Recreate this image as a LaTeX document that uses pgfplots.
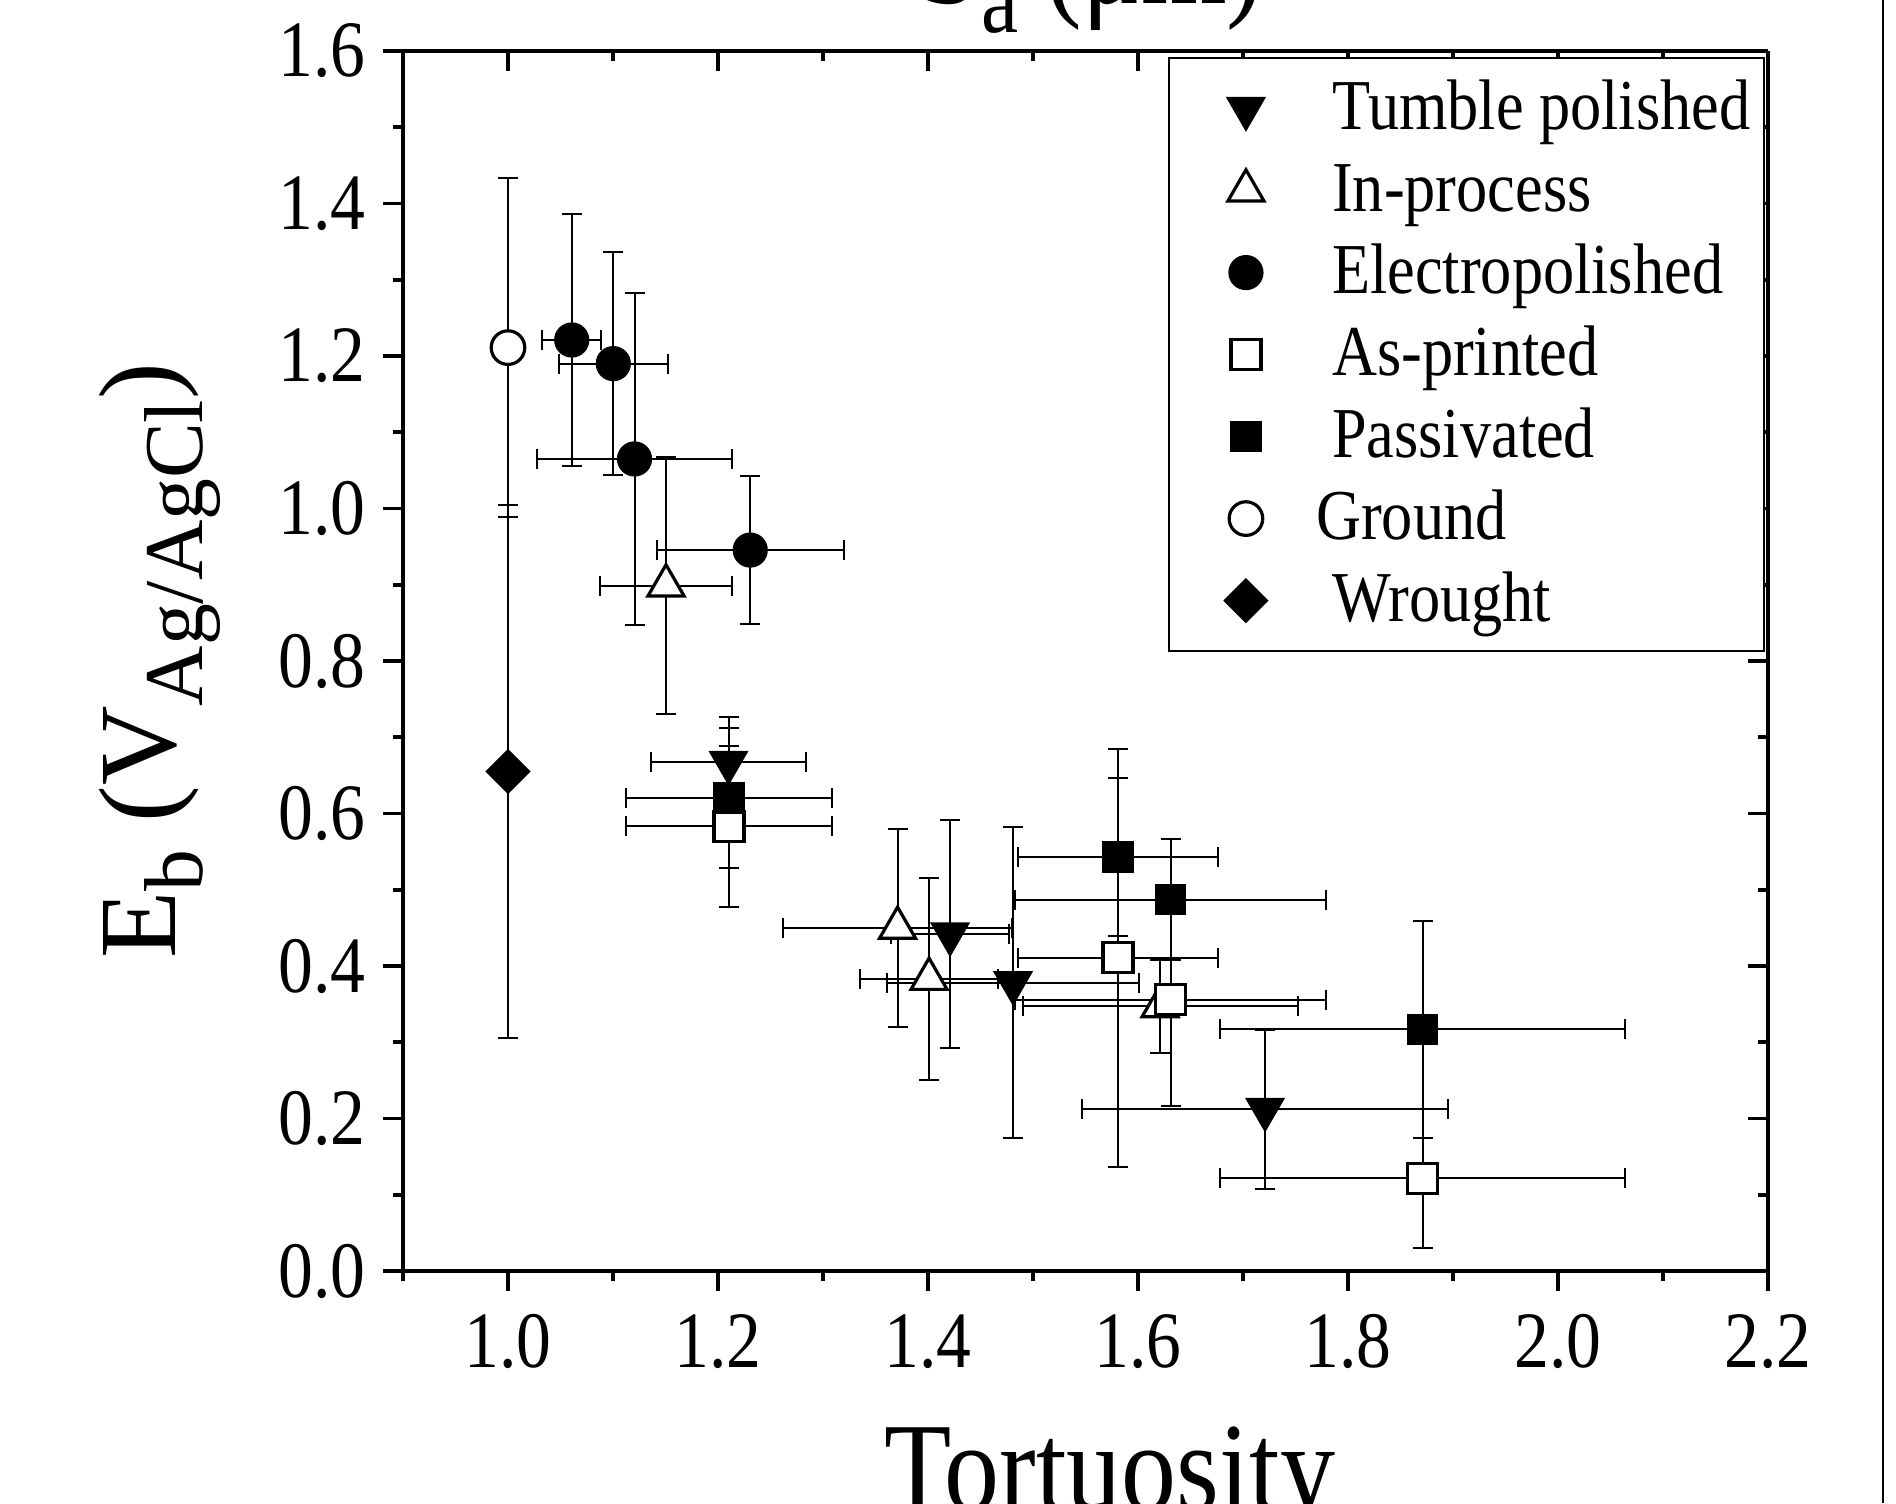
\documentclass[border=0pt]{standalone}
\usepackage{fontspec}
\setmainfont{Liberation Serif}
\newfontfamily\narrow[FakeStretch=0.87]{Liberation Serif}
\usepackage{pgfplots}
\pgfplotsset{compat=1.18}

\newcommand{\sub}[1]{\raisebox{-0.25em}{\fontsize{20.9pt}{24pt}\selectfont #1}}
\newcommand{\subt}[1]{\raisebox{-0.23em}{\fontsize{24pt}{28pt}\selectfont #1}}

\pgfplotsset{
  limg/.style={legend image code/.code={\path[draw=none, fill=none] (0pt,-1pt) rectangle (38.8pt,1pt);
      \draw[mark repeat=2,mark phase=2,##1] plot coordinates {(0pt,0pt)(17.25pt,0pt)(34.5pt,0pt)};}},
  errxy/.style={only marks,
    error bars/.cd, x dir=both, x explicit, y dir=both, y explicit,
    error bar style={line width=0.5pt, black},
    error mark options={rotate=90, line width=0.5pt, mark size=2.5pt, black},
    /pgfplots/.cd, limg},
  erry/.style={only marks,
    error bars/.cd, y dir=both, y explicit,
    error bar style={line width=0.5pt, black},
    error mark options={rotate=90, line width=0.5pt, mark size=2.5pt, black},
    /pgfplots/.cd, limg},
  common/.style={
    at={(0,0)}, anchor=south west, scale only axis,
    width=341.25pt, height=305pt,
    xmin=0.9, xmax=2.2, ymin=0, ymax=1.6,
    xtick={1.0,1.2,1.4,1.6,1.8,2.0,2.2},
    minor xtick={0.9,1.1,1.3,1.5,1.7,1.9,2.1},
    ytick={0,0.2,0.4,0.6,0.8,1.0,1.2,1.4,1.6},
    minor ytick={0.1,0.3,0.5,0.7,0.9,1.1,1.3,1.5},
    major tick length=5pt, minor tick length=2.5pt,
    every tick/.style={line width=0.9pt, black},
    axis line style={-, line width=1.2pt, black},
  }
}

\begin{document}
\begin{tikzpicture}
% back axis: top and right, ticks inside
\begin{axis}[common,
  axis x line*=top, axis y line*=right,
  tick align=inside,
  xticklabels={}, yticklabels={}]
\addplot[draw=none, forget plot] coordinates {(1,1)};
\end{axis}

% front axis: bottom and left, data and legend
\begin{axis}[common,
  axis x line*=bottom, axis y line*=left,
  tick align=outside,
  /pgf/number format/.cd, fixed, fixed zerofill, precision=1, assume math mode=true,
  /pgfplots/.cd,
  tick label style={font=\narrow\fontsize{20pt}{24pt}\selectfont, black},
  xticklabel style={yshift=-2.3pt},
  yticklabel style={xshift=-0.8pt},
  legend cell align=left,
  legend style={at={(axis description cs:0.5604,0.9951)}, anchor=north west,
    draw=black, line width=0.5pt, fill=white,
    font=\narrow\fontsize{17.9pt}{21pt}\selectfont,
    inner xsep=2pt, inner ysep=5.4pt, row sep=6pt,
    nodes={inner sep=0pt, text height=12.5pt, text depth=2pt}},
  extra description/.code={
    \node[anchor=base, font=\narrow\fontsize{31.6pt}{36pt}\selectfont] at (0.518,-0.1965) {Tortuosity};
    \node[anchor=base, rotate=90, font=\fontsize{27.5pt}{33pt}\selectfont] at (-0.167,0.5) {E\sub{b} (V\sub{Ag/AgCl})};
    \node[anchor=base, font=\narrow\fontsize{31.6pt}{36pt}\selectfont] at (0.5045,1.0389) {S\subt{a} (μm)};
  }]

% Tumble polished
\addplot[errxy, mark=triangle*, mark size=5.4pt, mark options={rotate=180, fill=black, draw=black, line width=0.4pt}]
  table[x=x, y=y, x error=ex, y error=ey] {
x y ex ey
1.210 0.667 0.074 0.059
1.421 0.442 0.056 0.149
1.481 0.378 0.120 0.204
1.721 0.212 0.174 0.104
};
\addlegendentry{Tumble polished\hspace*{1.5pt}}

% In-process
\addplot[errxy, mark=triangle*, mark size=5.2pt, mark options={fill=white, draw=black, line width=0.8pt}]
  table[x=x, y=y, x error=ex, y error=ey] {
x y ex ey
1.1505 0.899 0.063 0.168
1.371 0.450 0.109 0.130
1.401 0.383 0.066 0.132
1.621 0.347 0.131 0.061
};
\addlegendentry{In-process}

% Electropolished
\addplot[errxy, mark=*, mark size=4.2pt, mark options={fill=black, draw=black, line width=0.4pt}]
  table[x=x, y=y, x error=ex, y error=ey] {
x y ex ey
1.0607 1.221 0.028 0.165
1.1003 1.190 0.052 0.146
1.1205 1.065 0.093 0.218
1.2307 0.9455 0.089 0.097
};
\addlegendentry{Electropolished}

% As-printed
\addplot[errxy, mark=square*, mark size=3.75pt, mark options={fill=white, draw=black, line width=0.8pt}]
  table[x=x, y=y, x error=ex, y error=ey] {
x y ex ey
1.2105 0.583 0.098 0.106
1.581 0.411 0.095 0.274
1.631 0.356 0.148 0.140
1.871 0.1215 0.193 0.091
};
\addlegendentry{As-printed}

% Passivated
\addplot[errxy, mark=square*, mark size=3.75pt, mark options={fill=black, draw=black, line width=0.4pt}]
  table[x=x, y=y, x error=ex, y error=ey] {
x y ex ey
1.2105 0.620 0.098 0.092
1.581 0.543 0.095 0.103
1.631 0.487 0.148 0.079
1.871 0.317 0.193 0.142
};
\addlegendentry{Passivated}

% Ground
\addplot[erry, mark=*, mark size=4.2pt, mark options={fill=white, draw=black, line width=0.8pt}]
  table[x=x, y=y, y error=ey] {
x y ey
1.0 1.211 0.222
};
\addlegendentry{\hspace*{-4pt}Ground}

% Wrought
\addplot[erry, mark=square*, mark size=3.8pt, mark options={rotate=45, fill=black, draw=black, line width=0.4pt}]
  table[x=x, y=y, y error=ey] {
x y ey
1.0 0.655 0.350
};
\addlegendentry{Wrought}
\end{axis}

\draw[line width=0.7pt, black] (370pt,-58pt) -- (370pt,317.75pt);
\pgfresetboundingbox
\path[use as bounding box] (-100.75pt,-58pt) rectangle (373.25pt,317.75pt);
\end{tikzpicture}
\end{document}
